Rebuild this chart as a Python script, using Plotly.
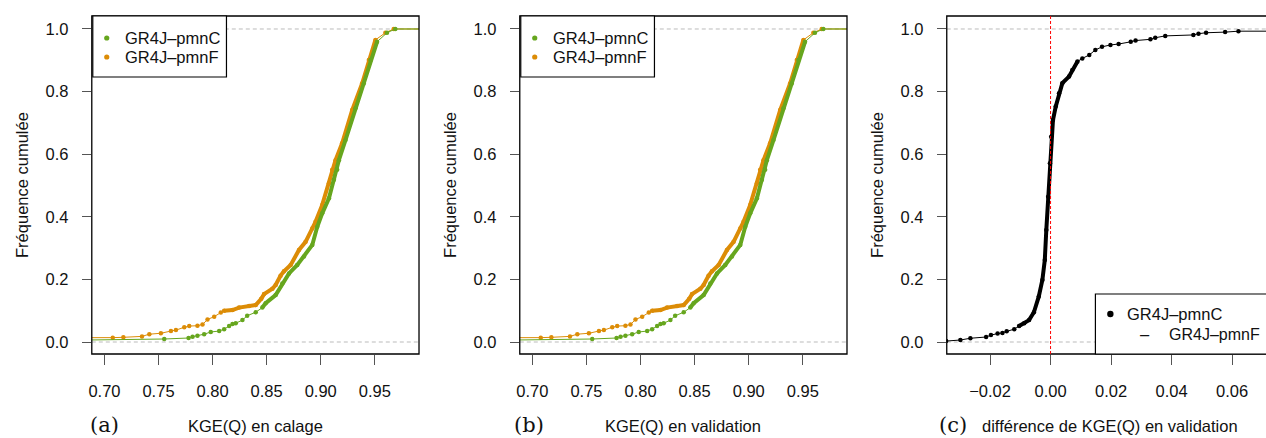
import plotly.graph_objects as go

# ---------------- data ----------------
# Panel (a): KGE(Q) en calage  -- empirical cumulative frequencies
cal_pmnF_kge = [0.686, 0.7077, 0.7175, 0.7347, 0.7415, 0.7522, 0.7615, 0.7661, 0.7738, 0.7784,
                0.786, 0.7907, 0.7953, 0.8015, 0.8076, 0.8107, 0.8184, 0.8245, 0.8338, 0.8399,
                0.845, 0.8476, 0.8553, 0.8583, 0.8629, 0.866, 0.8722, 0.8799, 0.886, 0.8922,
                0.8952, 0.9014, 0.9076, 0.9106, 0.9137, 0.9198, 0.9291, 0.9383, 0.9445, 0.9506,
                0.9598, 0.9675]
cal_pmnF_freq = [0.012, 0.014, 0.015, 0.018, 0.025, 0.028, 0.035, 0.038, 0.047, 0.051,
                 0.052, 0.056, 0.072, 0.081, 0.094, 0.100, 0.102, 0.110, 0.115, 0.118,
                 0.138, 0.153, 0.170, 0.182, 0.212, 0.226, 0.246, 0.294, 0.320, 0.363,
                 0.384, 0.438, 0.507, 0.550, 0.581, 0.635, 0.741, 0.826, 0.901, 0.965,
                 0.988, 1.000]
cal_pmnC_kge = [0.684, 0.7553, 0.7778, 0.7815, 0.786, 0.7922, 0.7983, 0.8061, 0.8107, 0.8153,
                0.8184, 0.8214, 0.8276, 0.832, 0.8399, 0.846, 0.8491, 0.8583, 0.8645, 0.8707,
                0.8783, 0.8845, 0.8922, 0.8968, 0.9014, 0.9076, 0.9122, 0.9152, 0.9168, 0.9229,
                0.9321, 0.9398, 0.946, 0.9521, 0.9613, 0.969]
cal_pmnC_freq = [0.0064, 0.0096, 0.0128, 0.017, 0.020, 0.025, 0.032, 0.035, 0.041, 0.051,
                 0.0575, 0.060, 0.070, 0.084, 0.095, 0.110, 0.124, 0.150, 0.187, 0.219,
                 0.246, 0.273, 0.310, 0.368, 0.411, 0.459, 0.518, 0.550, 0.581, 0.645,
                 0.747, 0.826, 0.901, 0.959, 0.988, 1.000]

# Panel (b): KGE(Q) en validation
val_pmnF_kge = [0.686, 0.7077, 0.7175, 0.7347, 0.7415, 0.7522, 0.7615, 0.7661, 0.7738, 0.7784,
                0.786, 0.7907, 0.7953, 0.8015, 0.8076, 0.8107, 0.8184, 0.8245, 0.8338, 0.8399,
                0.845, 0.8476, 0.8553, 0.8583, 0.8629, 0.866, 0.8722, 0.8799, 0.886, 0.8922,
                0.8952, 0.9014, 0.9076, 0.9106, 0.9137, 0.9198, 0.9291, 0.9383, 0.9445, 0.9506,
                0.9598, 0.9675]
val_pmnF_freq = [0.012, 0.014, 0.015, 0.018, 0.025, 0.028, 0.035, 0.038, 0.047, 0.051,
                 0.052, 0.056, 0.072, 0.081, 0.094, 0.100, 0.102, 0.110, 0.115, 0.118,
                 0.138, 0.153, 0.170, 0.182, 0.212, 0.226, 0.246, 0.294, 0.320, 0.363,
                 0.384, 0.438, 0.507, 0.550, 0.581, 0.635, 0.741, 0.826, 0.901, 0.965,
                 0.988, 1.000]
val_pmnC_kge = [0.684, 0.7553, 0.7778, 0.7815, 0.786, 0.7922, 0.7983, 0.8061, 0.8107, 0.8153,
                0.8184, 0.8214, 0.8276, 0.832, 0.8399, 0.846, 0.8491, 0.8583, 0.8645, 0.8707,
                0.8783, 0.8845, 0.8922, 0.8968, 0.9014, 0.9076, 0.9122, 0.9152, 0.9168, 0.9229,
                0.9321, 0.9398, 0.946, 0.9521, 0.9613, 0.969]
val_pmnC_freq = [0.0064, 0.0096, 0.0128, 0.017, 0.020, 0.025, 0.032, 0.035, 0.041, 0.051,
                 0.0575, 0.060, 0.070, 0.084, 0.095, 0.110, 0.124, 0.150, 0.187, 0.219,
                 0.246, 0.273, 0.310, 0.368, 0.411, 0.459, 0.518, 0.550, 0.581, 0.645,
                 0.747, 0.826, 0.901, 0.959, 0.988, 1.000]

# Panel (c): difference of KGE(Q) in validation
diff_kge = [-0.0345, -0.0298, -0.0265, -0.0213, -0.0197, -0.0175, -0.0159, -0.0145, -0.0120, -0.0104,
            -0.0087, -0.0071, -0.0055, -0.0039, -0.0027, -0.0019, -0.0014, -0.0008, -0.0002, 0.0002,
            0.0008, 0.0017, 0.0028, 0.0039, 0.0061, 0.0072, 0.0089, 0.0105, 0.0128, 0.0148,
            0.0170, 0.0198, 0.0225, 0.0265, 0.0281, 0.0330, 0.0346, 0.0379, 0.0472, 0.0489,
            0.0514, 0.0577, 0.0621]
diff_freq = [0.003, 0.0064, 0.012, 0.016, 0.022, 0.027, 0.029, 0.034, 0.041, 0.051,
             0.060, 0.070, 0.095, 0.145, 0.198, 0.262, 0.358, 0.464, 0.571, 0.656,
             0.709, 0.752, 0.795, 0.827, 0.848, 0.869, 0.896, 0.906, 0.917, 0.933,
             0.943, 0.949, 0.952, 0.959, 0.963, 0.967, 0.972, 0.978, 0.981, 0.985,
             0.988, 0.990, 0.993]

series_names = ["GR4J\u2013pmnC", "GR4J\u2013pmnF"]
kge_ticks = [0.70, 0.75, 0.80, 0.85, 0.90, 0.95]
kge_ticktext = ["0.70", "0.75", "0.80", "0.85", "0.90", "0.95"]
diff_ticks = [-0.02, 0.00, 0.02, 0.04, 0.06]
diff_ticktext = ["\u22120.02", "0.00", "0.02", "0.04", "0.06"]
freq_ticks = [0.0, 0.2, 0.4, 0.6, 0.8, 1.0]
freq_ticktext = ["0.0", "0.2", "0.4", "0.6", "0.8", "1.0"]
panel_letters = ["(a)", "(b)", "(c)"]
x_titles = ["KGE(Q) en calage", "KGE(Q) en validation", "diff\u00e9rence de KGE(Q) en validation"]
y_title = "Fr\u00e9quence cumul\u00e9e"

# ---------------- styles / layout ----------------
W, H = 1266, 438
GREEN = "#66A61E"
ORANGE = "#DC8C06"
BLACK = "#000000"
SANS = "Liberation Sans, Arial, sans-serif"
SERIF = "DejaVu Serif, serif"
FS = 16.5

def pxx(p):
    return p / W

def pxy(p):
    return 1 - p / H

Y_RANGE = [-0.0383, 1.0415]
TOP, BOTTOM = 16, 354

panels = [
    dict(left=89, right=417, xr=[0.6883, 0.9909], ticks=kge_ticks, ticktext=kge_ticktext,
         dense=(0.10, 0.965), letter_x=102, ytitle_x=19),
    dict(left=518, right=846, xr=[0.6883, 0.9909], ticks=kge_ticks, ticktext=kge_ticktext,
         dense=(0.10, 0.965), letter_x=527, ytitle_x=448),
    dict(left=946, right=1274, xr=[-0.0343, 0.0712], ticks=diff_ticks, ticktext=diff_ticktext,
         dense=(0.045, 0.90), letter_x=952, ytitle_x=876),
]

panel_series = [
    [(cal_pmnF_kge, cal_pmnF_freq, ORANGE), (cal_pmnC_kge, cal_pmnC_freq, GREEN)],
    [(val_pmnF_kge, val_pmnF_freq, ORANGE), (val_pmnC_kge, val_pmnC_freq, GREEN)],
    [(diff_kge, diff_freq, BLACK)],
]

fig = go.Figure()
shapes = []
annotations = []

for i, (p, sers) in enumerate(zip(panels, panel_series)):
    n = "" if i == 0 else str(i + 1)
    xa, ya = "x" + n, "y" + n
    span = p["xr"][1] - p["xr"][0]
    for xs, ys, col in sers:
        # extend ECDF horizontally to the plot edges
        ext_x = [p["xr"][0] - span] + list(xs) + [p["xr"][1] + span]
        ext_y = [ys[0]] + list(ys) + [ys[-1]]
        fig.add_trace(go.Scatter(x=ext_x, y=ext_y, mode="lines", xaxis=xa, yaxis=ya,
                                 line=dict(color=col, width=1), showlegend=False, hoverinfo="skip"))
        fig.add_trace(go.Scatter(x=list(xs), y=list(ys), mode="markers", xaxis=xa, yaxis=ya,
                                 marker=dict(color=col, size=4.5), showlegend=False))
        lo, hi = p["dense"]
        dx = [x for x, y in zip(xs, ys) if lo <= y <= hi]
        dy = [y for x, y in zip(xs, ys) if lo <= y <= hi]
        fig.add_trace(go.Scatter(x=dx, y=dy, mode="lines", xaxis=xa, yaxis=ya,
                                 line=dict(color=col, width=4), showlegend=False, hoverinfo="skip"))

    right = min(p["right"], W)
    fig.update_layout(**{
        ("xaxis" + n): dict(domain=[pxx(p["left"]), pxx(right)], range=p["xr"], anchor=ya,
                            tickmode="array", tickvals=p["ticks"], ticktext=p["ticktext"],
                            ticks="outside", ticklen=10, tickwidth=1, tickcolor="#555555",
                            showline=False, showgrid=False, zeroline=False,
                            tickfont=dict(family=SANS, size=FS, color="#111111"),
                            ticklabelstandoff=12),
        ("yaxis" + n): dict(domain=[pxy(BOTTOM), pxy(TOP)], range=Y_RANGE, anchor=xa,
                            tickmode="array", tickvals=freq_ticks, ticktext=freq_ticktext,
                            ticks="outside", ticklen=9, tickwidth=1, tickcolor="#555555",
                            showline=False, showgrid=False, zeroline=False,
                            tickfont=dict(family=SANS, size=FS, color="#111111"),
                            ticklabelstandoff=10),
    })
    # dashed reference lines at 0 and 1
    for yv in (0, 1):
        shapes.append(dict(type="line", xref=xa + " domain", yref=ya, x0=0, x1=1, y0=yv, y1=yv,
                           line=dict(color="#BBBBBB", width=1, dash="4px,3px"), layer="below"))
    # frame
    shapes.append(dict(type="rect", xref="paper", yref="paper",
                       x0=pxx(p["left"]), x1=pxx(p["right"]), y0=pxy(BOTTOM), y1=pxy(TOP),
                       line=dict(color="black", width=1.3), layer="above"))
    # titles
    annotations.append(dict(text=x_titles[i], xref="paper", yref="paper",
                            x=pxx((p["left"] + p["right"]) / 2), y=pxy(426),
                            xanchor="center", yanchor="middle", showarrow=False,
                            font=dict(family=SANS, size=FS, color="#111111")))
    annotations.append(dict(text=panel_letters[i], xref="paper", yref="paper",
                            x=pxx(p["letter_x"]), y=pxy(425), xanchor="center", yanchor="middle",
                            showarrow=False, font=dict(family=SERIF, size=21, color="#111111")))
    annotations.append(dict(text=y_title, xref="paper", yref="paper", textangle=-90,
                            x=pxx(p["ytitle_x"]), y=pxy((TOP + BOTTOM) / 2),
                            xanchor="center", yanchor="middle", showarrow=False,
                            font=dict(family=SANS, size=FS, color="#111111")))

# red dashed vertical line at 0 in panel (c)
shapes.append(dict(type="line", xref="x3", yref="y3 domain", x0=0, x1=0, y0=0, y1=1,
                   line=dict(color="#FF0000", width=1, dash="3px,2px"), layer="above"))

# legends (a) and (b)
def legend_entry(dot_x, text_x, y, text, color, r):
    shapes.append(dict(type="circle", xref="paper", yref="paper", xsizemode="pixel",
                       ysizemode="pixel", xanchor=pxx(dot_x), yanchor=pxy(y),
                       x0=-r, x1=r, y0=-r, y1=r, fillcolor=color, line=dict(width=0),
                       layer="above"))
    annotations.append(dict(text=text, xref="paper", yref="paper", x=pxx(text_x), y=pxy(y),
                            xanchor="left", yanchor="middle", showarrow=False,
                            font=dict(family=SANS, size=FS, color="#111111")))

for left in (89, 518):
    shapes.append(dict(type="rect", xref="paper", yref="paper",
                       x0=pxx(left + 1), x1=pxx(left + 135), y0=pxy(77), y1=pxy(TOP),
                       fillcolor="white", line=dict(color="black", width=1.2), layer="above"))
    legend_entry(left + 15, left + 31, 38, series_names[0], GREEN, 2.6)
    legend_entry(left + 15, left + 31, 57, series_names[1], ORANGE, 2.6)

# legend (c)
shapes.append(dict(type="rect", xref="paper", yref="paper",
                   x0=pxx(1095), x1=pxx(1290), y0=pxy(BOTTOM), y1=pxy(294),
                   fillcolor="white", line=dict(color="black", width=1.2), layer="above"))
legend_entry(1110, 1125, 314, series_names[0], BLACK, 3.2)
annotations.append(dict(text="\u2013", xref="paper", yref="paper", x=pxx(1145), y=pxy(334),
                        xanchor="center", yanchor="middle", showarrow=False,
                        font=dict(family=SANS, size=FS, color="#111111")))
annotations.append(dict(text=series_names[1], xref="paper", yref="paper", x=pxx(1167), y=pxy(334),
                        xanchor="left", yanchor="middle", showarrow=False,
                        font=dict(family=SANS, size=16, color="#111111")))

fig.update_layout(width=W, height=H, margin=dict(l=0, r=0, t=0, b=0),
                  paper_bgcolor="white", plot_bgcolor="white", showlegend=False,
                  shapes=shapes, annotations=annotations)

fig.write_html("out.html", config={"displayModeBar": False},
               post_script="document.body.style.margin='0';document.body.style.overflow='hidden';")
